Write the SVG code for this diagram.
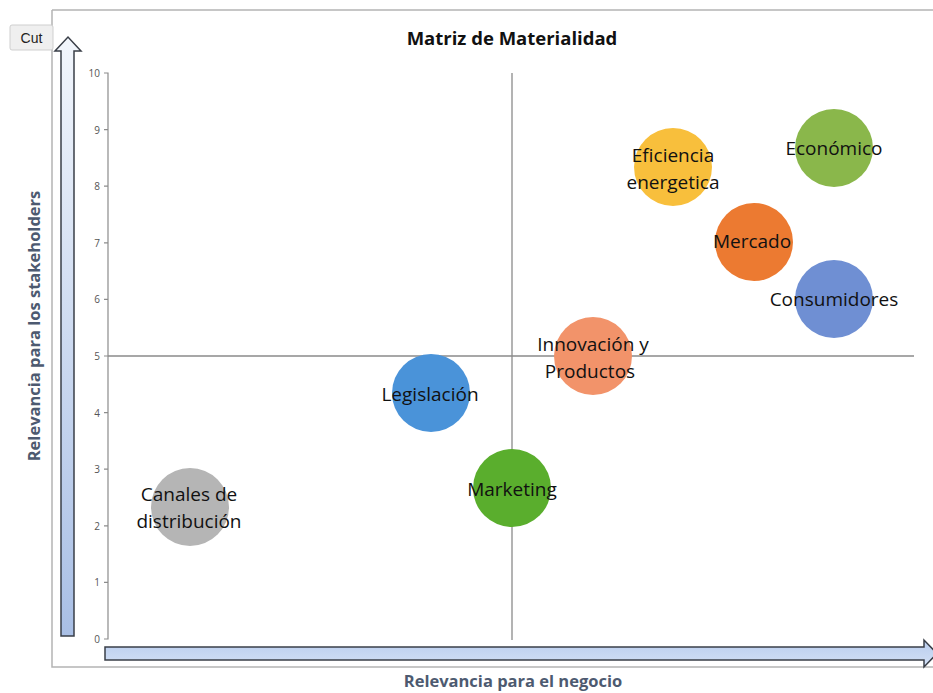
<svg xmlns="http://www.w3.org/2000/svg" width="933" height="693" viewBox="0 0 933 693">
<defs>
<style>
.frame{stroke:#b4b4b4;stroke-width:1.5;fill:none}
.axis{stroke:#8c8c8c;stroke-width:1.2;fill:none}
.grid{stroke:#8a8a8a;stroke-width:1.3;fill:none}
.tick{font-family:"Open Sans","Liberation Sans",sans-serif;font-size:10px;fill:#555;text-anchor:end}
.lbl{font-family:"Open Sans","Liberation Sans",sans-serif;font-size:19px;fill:#111;text-anchor:middle}
.title{font-family:"Open Sans","Liberation Sans",sans-serif;font-size:18.5px;font-weight:bold;fill:#111;text-anchor:middle}
.axlbl{font-family:"Open Sans","Liberation Sans",sans-serif;font-size:16.5px;font-weight:bold;fill:#4d5a70;text-anchor:middle}
.arrow{stroke:#3a3f48;stroke-width:1.5}
</style>
<linearGradient id="gv" x1="0" y1="0" x2="0" y2="1">
<stop offset="0" stop-color="#f2f6fc"/>
<stop offset="1" stop-color="#a9bfe5"/>
</linearGradient>
<linearGradient id="gh" x1="0" y1="0" x2="0" y2="1">
<stop offset="0" stop-color="#b9cdee"/>
<stop offset="1" stop-color="#d3e0f5"/>
</linearGradient>
</defs>
<rect width="933" height="693" fill="#ffffff"/>
<g id="frame">
<path class="frame" d="M52,10 H933 M52,10 V667 H933"/>
</g>
<g id="cut-button">
<rect x="10" y="25" width="43" height="25" rx="2" fill="#efefef" stroke="#cfcfcf"/>
<text x="31.5" y="42.5" font-family="Liberation Sans,Arial,sans-serif" font-size="14" fill="#222" text-anchor="middle">Cut</text>
</g>
<g id="title"><text class="title" x="512" y="45">Matriz de Materialidad</text></g>
<g id="axes">
<path class="axis" d="M104,73 H108 V639 H104 M104,129.6 H108 M104,186.2 H108 M104,242.8 H108 M104,299.4 H108 M104,356 H108 M104,412.6 H108 M104,469.2 H108 M104,525.8 H108 M104,582.4 H108"/>
<text class="tick" x="100" y="77">10</text>
<text class="tick" x="100" y="133.6">9</text>
<text class="tick" x="100" y="190.2">8</text>
<text class="tick" x="100" y="246.8">7</text>
<text class="tick" x="100" y="303.4">6</text>
<text class="tick" x="100" y="360">5</text>
<text class="tick" x="100" y="416.6">4</text>
<text class="tick" x="100" y="473.2">3</text>
<text class="tick" x="100" y="529.8">2</text>
<text class="tick" x="100" y="586.4">1</text>
<text class="tick" x="100" y="643">0</text>
</g>
<g id="connectors">
<path class="grid" d="M108,356 H914"/>
<path class="grid" d="M512,73 V640"/>
</g>
<g id="arrow-vertical">
<path class="arrow" fill="url(#gv)" d="M61,636 V51 H55 L68,37 L81,51 H74 V636 Z"/>
</g>
<g id="arrow-horizontal">
<path class="arrow" fill="url(#gh)" d="M105,647 H924 V640 L937,653.5 L924,667 V660 H105 Z"/>
</g>
<g id="y-label"><text class="axlbl" transform="translate(40,326) rotate(-90)">Relevancia para los stakeholders</text></g>
<g id="x-label"><text class="axlbl" x="513" y="687">Relevancia para el negocio</text></g>
<g id="node-economico">
<circle cx="834" cy="148" r="39" fill="#8ab74b"/>
<text class="lbl" x="834" y="155">Económico</text>
</g>
<g id="node-eficiencia">
<circle cx="673" cy="167" r="39" fill="#f8bf3c"/>
<text class="lbl" x="673" y="162">Eficiencia</text>
<text class="lbl" x="673" y="189">energetica</text>
</g>
<g id="node-mercado">
<circle cx="754" cy="242" r="39" fill="#ec7a31"/>
<text class="lbl" x="752" y="248">Mercado</text>
</g>
<g id="node-consumidores">
<circle cx="834" cy="299" r="39" fill="#6f8fd3"/>
<text class="lbl" x="834" y="306">Consumidores</text>
</g>
<g id="node-innovacion">
<circle cx="593" cy="356" r="39" fill="#f2936a"/>
<text class="lbl" x="593" y="351">Innovación y</text>
<text class="lbl" x="590" y="378">Productos</text>
</g>
<g id="node-legislacion">
<circle cx="431" cy="393" r="39" fill="#4a93d9"/>
<text class="lbl" x="430" y="401">Legislación</text>
</g>
<g id="node-marketing">
<circle cx="512" cy="488" r="39" fill="#5aae2d"/>
<text class="lbl" x="512" y="496">Marketing</text>
</g>
<g id="node-canales">
<circle cx="190" cy="507" r="39" fill="#b5b5b5"/>
<text class="lbl" x="189" y="501">Canales de</text>
<text class="lbl" x="189" y="528">distribución</text>
</g>
</svg>
